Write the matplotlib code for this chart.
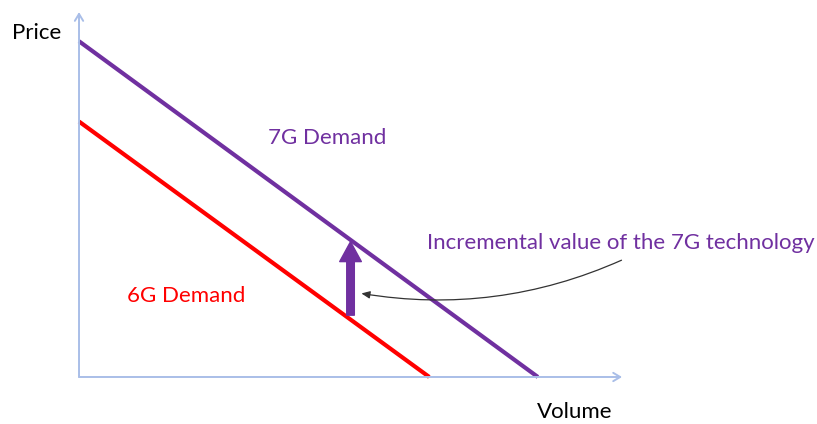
import matplotlib
matplotlib.use("Agg")
import matplotlib.pyplot as plt

plt.rcParams['font.family'] = ['Lato', 'DejaVu Sans']

# Linear demand curves: (price intercept, volume intercept)
demand_6g = (7.0, 6.45)
demand_7g = (9.2, 8.45)
curve_labels = ["6G Demand", "7G Demand"]
shift_volume = 5.0
callout_text = "Incremental value of the 7G technology"
axis_labels = ["Volume", "Price"]

PURPLE = "#7030A0"
RED = "#FF0000"
AXIS = "#A9BEE8"
FS = 16

fig = plt.figure(figsize=(8.17, 4.24), dpi=100)
ax = fig.add_axes([0, 0, 1, 1])
ax.set_xlim(-1.455, 13.59)
ax.set_ylim(-1.288, 10.33)
ax.axis("off")

# axes with open arrowheads
axis_arrow = dict(arrowstyle="->,head_length=0.5,head_width=0.3", color=AXIS,
                  lw=1.4, shrinkA=0, shrinkB=0)
ax.annotate("", xy=(10.0, 0), xytext=(0, 0), arrowprops=axis_arrow)
ax.annotate("", xy=(0, 10.0), xytext=(0, 0), arrowprops=axis_arrow)


def price_at(curve, v):
    p0, v0 = curve
    return p0 * (1 - v / v0)


for curve, color in [(demand_6g, RED), (demand_7g, PURPLE)]:
    p0, v0 = curve
    ax.plot([0, v0], [p0, 0], color=color, lw=3.0, solid_capstyle="butt")

# upward shift arrow between the two demand curves
y_lo = price_at(demand_6g, shift_volume) + 0.12
y_hi = price_at(demand_7g, shift_volume) - 0.05
ax.annotate("", xy=(shift_volume, y_hi), xytext=(shift_volume, y_lo),
            arrowprops=dict(arrowstyle="simple,head_width=1.2,head_length=1.1,tail_width=0.42",
                            color=PURPLE, shrinkA=0, shrinkB=0, mutation_scale=13))

# callout with curved pointer
ax.annotate("", xy=(5.2, 2.29), xytext=(9.99, 3.2),
            arrowprops=dict(arrowstyle="-|>,head_length=0.5,head_width=0.22",
                            color="#333333", lw=0.9, shrinkA=0, shrinkB=0,
                            connectionstyle="arc3,rad=-0.15"))
ax.text(6.41, 3.67, callout_text, color=PURPLE, fontsize=FS,
        ha="left", va="center")

ax.text(3.48, 6.55, curve_labels[1], color=PURPLE, fontsize=FS, ha="left", va="center")
ax.text(0.88, 2.21, curve_labels[0], color=RED, fontsize=FS, ha="left", va="center")

ax.text(-1.23, 9.42, axis_labels[1], color="black", fontsize=FS, ha="left", va="center")
ax.text(8.43, -0.96, axis_labels[0], color="black", fontsize=FS, ha="left", va="center")

fig.savefig("out.png", dpi=100, facecolor="white")
